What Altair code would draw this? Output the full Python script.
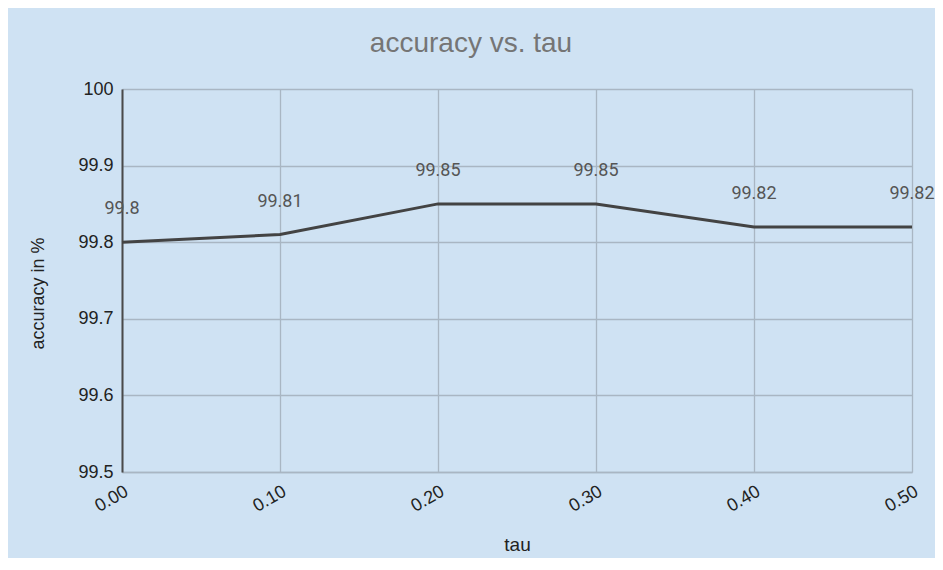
import altair as alt
import pandas as pd

tau = [0.0, 0.1, 0.2, 0.3, 0.4, 0.5]
accuracy = [99.80, 99.81, 99.85, 99.85, 99.82, 99.82]
labels = ["99.8", "99.81", "99.85", "99.85", "99.82", "99.82"]
y_ticks = [99.5, 99.6, 99.7, 99.8, 99.9, 100]

df = pd.DataFrame({"tau": tau, "accuracy": accuracy, "label": labels})

grid = "#a9b6c3"
x = alt.X("tau:Q", title="tau",
          scale=alt.Scale(domain=[0, 0.5], nice=False, zero=False),
          axis=alt.Axis(values=tau, format=".2f", labelAngle=-30, labelFontSize=18,
                        labelColor="#222222", labelFont="Liberation Sans",
                        titleFont="Liberation Sans", titleFontSize=19, titleFontWeight="normal",
                        titleColor="#222222", titlePadding=20, ticks=False, labelPadding=10,
                        domainColor=grid, gridColor=grid, gridWidth=1.3, domainWidth=1.3))
y = alt.Y("accuracy:Q", title="accuracy in %",
          scale=alt.Scale(domain=[99.5, 100], nice=False, zero=False),
          axis=alt.Axis(values=y_ticks, format="~g", labelFontSize=18,
                        labelColor="#222222", labelFont="Liberation Sans",
                        titleFont="Liberation Sans", titleFontSize=18, titleFontWeight="normal",
                        titleColor="#222222", titlePadding=30, titleY=204, ticks=False, labelPadding=9,
                        domainColor="#4a4a4a", domainWidth=2,
                        gridColor=grid, gridWidth=1.3))

line = alt.Chart(df).mark_line(color="#434343", strokeWidth=3).encode(x=x, y=y)
text = alt.Chart(df).mark_text(dy=-28, baseline="alphabetic", font="Roboto", fontSize=18,
                               color="#555555").encode(x="tau:Q", y="accuracy:Q", text="label:N")

chart = (line + text).properties(
    width=790, height=383,
    background="#cfe2f3",
    autosize=alt.AutoSizeParams(type="none"),
    padding={"left": 114, "top": 81, "right": 23, "bottom": 86},
    title=alt.TitleParams("accuracy vs. tau", font="Liberation Sans", fontSize=28,
                          fontWeight="normal", color="#757575", anchor="middle", dx=-46, offset=22),
).configure_view(stroke=None, fill="#cfe2f3")

chart.save("out.html", embed_options={"renderer": "svg", "actions": False})
